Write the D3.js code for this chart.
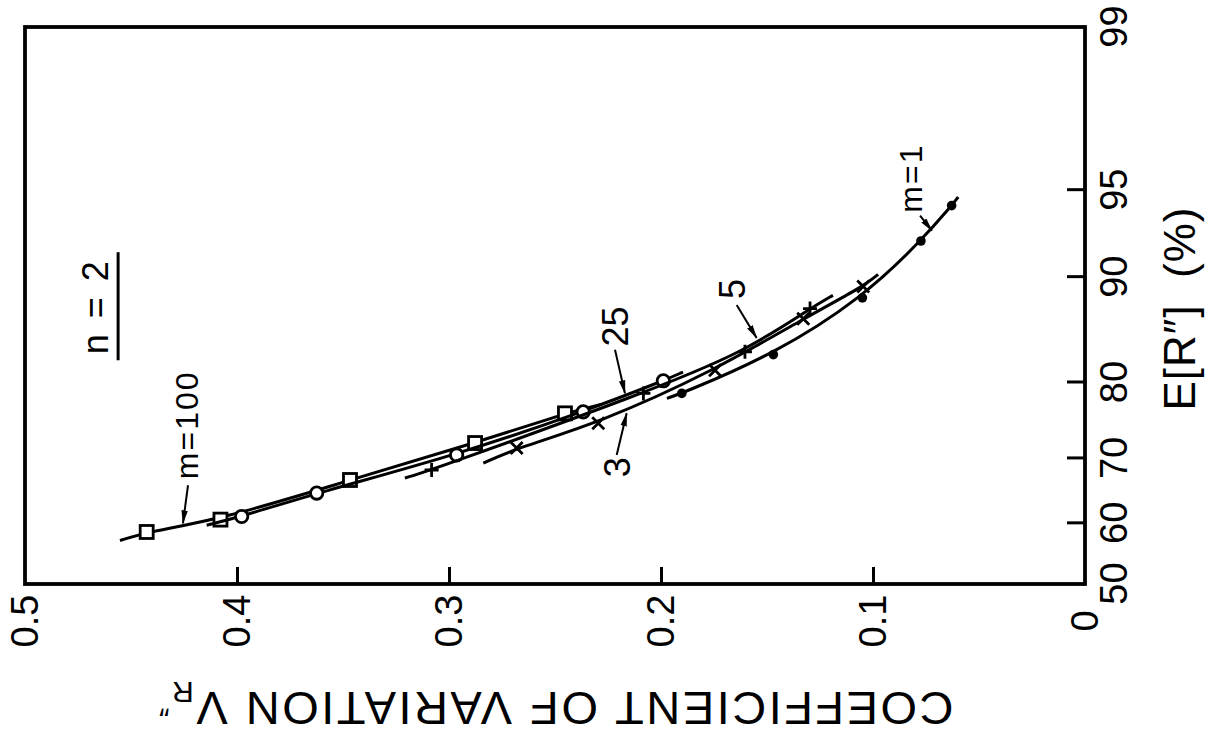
<!DOCTYPE html>
<html>
<head>
<meta charset="utf-8">
<script src="https://cdn.jsdelivr.net/npm/d3@7"></script>
<style>
  html, body { margin: 0; padding: 0; background: #fff; }
  svg text { font-family: "Liberation Sans", Arial, sans-serif; fill: #000; }
</style>
</head>
<body>
<svg id="chart" width="1209" height="737"></svg>
<script>
// Axis ticks
const cvTicks = [0, 0.1, 0.2, 0.3, 0.4, 0.5];
const eTicks = [50, 60, 70, 80, 90, 95, 99];

// Series: [coefficient of variation, E[R''] in %]
const m1Points   = [[0.1902, 78.7], [0.1470, 83.1], [0.1050, 88.4], [0.0774, 92.4], [0.0629, 94.3]];
const m1Ends     = [[0.1972, 78.1], [0.0598, 94.7]];
const m3Points   = [[0.2681, 71.5], [0.2296, 74.9], [0.1745, 81.4], [0.1329, 86.6], [0.1046, 89.3]];
const m3Ends     = [[0.2838, 69.3], [0.0976, 90.2]];
const m5Points   = [[0.3082, 68.3], [0.2083, 78.7], [0.1604, 83.4], [0.1297, 87.5]];
const m5Ends     = [[0.3208, 67.1], [0.1189, 88.6]];
const m25Points  = [[0.3978, 61.1], [0.3624, 64.8], [0.2964, 70.5], [0.2367, 76.4], [0.1989, 80.2]];
const m25Ends    = [[0.4143, 59.7], [0.1896, 81.2]];
const m100Points = [[0.4426, 58.6], [0.4078, 60.6], [0.3467, 66.8], [0.2877, 72.2], [0.2453, 76.2]];
const m100Ends   = [[0.4552, 57.2], [0.2288, 77.3]];

// Curve labels: text, label anchor [cv, E], arrow tail [cv, E], arrow tip [cv, E]
const curveLabels = [
  { text: "m=100", at: [0.4184, 74.7], tail: [0.4231, 66.0], tip: [0.4255, 60.0] },
  { text: "25",    at: [0.2156, 85.9], tail: [0.2217, 83.6], tip: [0.2170, 78.7] },
  { text: "3",     at: [0.2146, 68.7], tail: [0.2209, 70.5], tip: [0.2162, 76.2] },
  { text: "5",     at: [0.1604, 89.1], tail: [0.1643, 87.8], tip: [0.1549, 84.8] },
  { text: "m=1",   at: [0.0769, 95.5], tail: [0.0778, 93.8], tip: [0.0722, 93.0] }
];
const panelLabel = { text: "n = 2", at: [0.4608, 87.7] };

// Inverse standard normal CDF (Acklam's rational approximation)
function probit(p) {
  const a = [-3.969683028665376e+01, 2.209460984245205e+02, -2.759285104469687e+02, 1.383577518672690e+02, -3.066479806614716e+01, 2.506628277459239e+00];
  const b = [-5.447609879822406e+01, 1.615858368580409e+02, -1.556989798598866e+02, 6.680131188771972e+01, -1.328068155288572e+01];
  const c = [-7.784894002430293e-03, -3.223964580411365e-01, -2.400758277161838e+00, -2.549732539343734e+00, 4.374664141464968e+00, 2.938163982698783e+00];
  const d = [7.784695709041462e-03, 3.224671290700398e-01, 2.445134137142996e+00, 3.754408661907416e+00];
  const pl = 0.02425, ph = 1 - pl;
  let q, r;
  if (p < pl) {
    q = Math.sqrt(-2 * Math.log(p));
    return (((((c[0]*q+c[1])*q+c[2])*q+c[3])*q+c[4])*q+c[5]) / ((((d[0]*q+d[1])*q+d[2])*q+d[3])*q+1);
  }
  if (p <= ph) {
    q = p - 0.5; r = q * q;
    return (((((a[0]*r+a[1])*r+a[2])*r+a[3])*r+a[4])*r+a[5])*q / (((((b[0]*r+b[1])*r+b[2])*r+b[3])*r+b[4])*r+1);
  }
  q = Math.sqrt(-2 * Math.log(1 - p));
  return -(((((c[0]*q+c[1])*q+c[2])*q+c[3])*q+c[4])*q+c[5]) / ((((d[0]*q+d[1])*q+d[2])*q+d[3])*q+1);
}

// The chart is laid out as a portrait page and turned a quarter turn
const W = 737, H = 1209;
const margin = { top: 25, right: 27, bottom: 124, left: 153 };
const svg = d3.select("#chart");
const defs = svg.append("defs");
defs.append("marker")
  .attr("id", "arrowhead")
  .attr("viewBox", "0 0 14 8")
  .attr("refX", 13).attr("refY", 4)
  .attr("markerWidth", 14).attr("markerHeight", 8)
  .attr("markerUnits", "userSpaceOnUse")
  .attr("orient", "auto")
  .append("path").attr("d", "M0,0.8 L14,4 L0,7.2 Z").attr("fill", "#000");

const page = svg.append("g").attr("transform", `translate(0,${W}) rotate(-90)`);

// Probability scale for E[R''] (normal quantiles) and linear scale for the coefficient
const zScale = d3.scaleLinear()
  .domain([0, probit(0.99)])
  .range([margin.left, W - margin.right]);
const ex = e => zScale(probit(e / 100));
const y = d3.scaleLinear().domain([0, 0.5]).range([H - margin.bottom, margin.top]);

// Frame
page.append("rect")
  .attr("x", margin.left).attr("y", margin.top)
  .attr("width", W - margin.left - margin.right)
  .attr("height", H - margin.top - margin.bottom)
  .attr("fill", "none").attr("stroke", "#000").attr("stroke-width", 3.8);

// Coefficient-of-variation axis
const yAxis = page.append("g")
  .attr("transform", `translate(${margin.left},0)`)
  .call(d3.axisLeft(y).tickValues(cvTicks).tickSizeInner(-17).tickSizeOuter(0)
    .tickFormat(d => d === 0 ? "0" : d3.format(".1f")(d)));
yAxis.select(".domain").remove();
yAxis.selectAll(".tick line")
  .attr("stroke", "#000").attr("stroke-width", 3)
  .attr("opacity", d => (d === 0 || d === 0.5) ? 0 : 1);
yAxis.selectAll(".tick text")
  .attr("x", -37).attr("text-anchor", "middle")
  .style("font-size", "38px");

// E[R''] axis
const zTicks = eTicks.map(e => probit(e / 100));
const xAxis = page.append("g")
  .attr("transform", `translate(0,${H - margin.bottom})`)
  .call(d3.axisBottom(zScale).tickValues(zTicks).tickSizeInner(-18).tickSizeOuter(0)
    .tickFormat((d, i) => eTicks[i]));
xAxis.select(".domain").remove();
xAxis.selectAll(".tick line")
  .attr("stroke", "#000").attr("stroke-width", 3)
  .attr("opacity", (d, i) => (i === 0 || i === eTicks.length - 1) ? 0 : 1);
xAxis.selectAll(".tick text")
  .attr("y", 42).attr("dy", 0)
  .style("font-size", "38px");

// Axis titles
page.append("text")
  .attr("x", (margin.left + W - margin.right) / 2 - 3)
  .attr("y", 1195)
  .attr("text-anchor", "middle")
  .attr("xml:space", "preserve")
  .style("font-size", "44px")
  .style("letter-spacing", "1px")
  .text("E[R\u2033]  (%)");

const yTitle = page.append("text")
  .attr("transform", `translate(45,${(margin.top + H - margin.bottom) / 2}) rotate(-90)`)
  .attr("text-anchor", "middle")
  .style("font-size", "47px")
  .style("letter-spacing", "2.5px");
yTitle.append("tspan").text("COEFFICIENT OF VARIATION V");
yTitle.append("tspan").attr("dy", 10).style("font-size", "30px").text("R");
yTitle.append("tspan").attr("dy", -14).style("font-size", "30px").text("\u2033");

// Curves and markers
const series = [
  { points: m100Points, ends: m100Ends, symbol: "square" },
  { points: m25Points,  ends: m25Ends,  symbol: "circle" },
  { points: m5Points,   ends: m5Ends,   symbol: "plus" },
  { points: m3Points,   ends: m3Ends,   symbol: "cross" },
  { points: m1Points,   ends: m1Ends,   symbol: "dot" }
];

const line = d3.line()
  .x(d => ex(d[1]))
  .y(d => y(d[0]))
  .curve(d3.curveBasis);

const plot = page.append("g");
series.forEach(s => {
  const path = [s.ends[0], ...s.points, s.ends[1]];
  plot.append("path")
    .attr("d", line(path))
    .attr("fill", "none").attr("stroke", "#000").attr("stroke-width", 3);

  const g = plot.append("g");
  s.points.forEach(p => {
    const px = ex(p[1]), py = y(p[0]);
    if (s.symbol === "square") {
      g.append("rect").attr("x", px - 6.5).attr("y", py - 6.5).attr("width", 13).attr("height", 13)
        .attr("fill", "#fff").attr("stroke", "#000").attr("stroke-width", 2.8);
    } else if (s.symbol === "circle") {
      g.append("circle").attr("cx", px).attr("cy", py).attr("r", 6.2)
        .attr("fill", "#fff").attr("stroke", "#000").attr("stroke-width", 2.8);
    } else if (s.symbol === "dot") {
      g.append("circle").attr("cx", px).attr("cy", py).attr("r", 4.8).attr("fill", "#000");
    } else if (s.symbol === "plus") {
      g.append("path").attr("d", `M${px - 7},${py}H${px + 7}M${px},${py - 7}V${py + 7}`)
        .attr("stroke", "#000").attr("stroke-width", 2.8);
    } else {
      g.append("path").attr("d", `M${px - 6},${py - 6}L${px + 6},${py + 6}M${px - 6},${py + 6}L${px + 6},${py - 6}`)
        .attr("stroke", "#000").attr("stroke-width", 2.8);
    }
  });
});

// Curve labels with leader arrows
curveLabels.forEach(l => {
  plot.append("line")
    .attr("x1", ex(l.tail[1])).attr("y1", y(l.tail[0]))
    .attr("x2", ex(l.tip[1])).attr("y2", y(l.tip[0]))
    .attr("stroke", "#000").attr("stroke-width", 2)
    .attr("marker-end", "url(#arrowhead)");
  plot.append("text")
    .attr("x", ex(l.at[1])).attr("y", y(l.at[0]))
    .attr("text-anchor", "middle")
    .style("font-size", l.text.startsWith("m") ? "32px" : "36px")
    .style("letter-spacing", l.text.startsWith("m") ? "2px" : "0px")
    .text(l.text);
});

// Panel label, underlined
const nText = page.append("text")
  .attr("x", ex(panelLabel.at[1])).attr("y", y(panelLabel.at[0]))
  .attr("text-anchor", "middle")
  .attr("xml:space", "preserve")
  .style("font-size", "36px")
  .style("letter-spacing", "3px")
  .text(panelLabel.text);
const nBox = nText.node().getBBox();
page.append("line")
  .attr("x1", nBox.x - 6).attr("x2", nBox.x + nBox.width + 6)
  .attr("y1", y(panelLabel.at[0]) + 10).attr("y2", y(panelLabel.at[0]) + 10)
  .attr("stroke", "#000").attr("stroke-width", 3);
</script>
</body>
</html>
